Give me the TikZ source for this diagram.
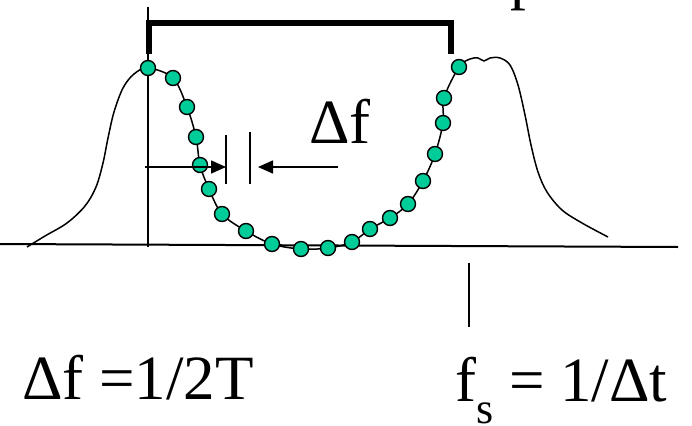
\documentclass[tikz,border=0pt]{standalone}
\usepackage{fontspec}
\setmainfont{Liberation Serif}
\usetikzlibrary{arrows.meta}
\definecolor{sampgreen}{RGB}{0,204,153}

\begin{document}
\begin{tikzpicture}[x=1pt,y=-1pt,
    samp/.style={circle,draw,line width=1.4pt,fill=sampgreen,inner sep=0,minimum size=15pt},
    bigtxt/.style={font=\fontsize{63}{63}\selectfont,inner sep=0,anchor=base west},
    arr/.style={line width=1.6pt,-{Triangle[length=15pt,width=13pt]}}]
\useasboundingbox (0,0) rectangle (692,425);
\draw[line width=2pt] (0,244)--(678,247);
\draw[line width=1.5pt] (148,7)--(148,247);
\draw[line width=5.5pt] (149,54)--(149,23)--(451,23)--(451,54);
\draw[line width=1.5pt] (469,263)--(469,327);
\draw[line width=1.5pt] plot[smooth,tension=0.55] coordinates {(27,247) (45,236) (67,223) (85,206)
    (96,187) (103,163) (108,138) (114,112) (123,88) (134,74) (148,68) (173,78) (187,107)
    (196,137) (200,165) (209,189) (222,214) (246,231) (272,244) (301,249) (328,248)
    (352,242) (370,229) (390,218) (408,204) (423,181) (435,154) (443,123) (444,98)
    (459,67) (470,59) (478,58) (484,61) (490,58) (500,58) (510,65) (518,85) (525,115)
    (531,145) (538,172) (547,192) (562,210) (582,223) (608,237)};
\foreach \pt [count=\i] in {(148,68),(173,78),(187,107),(196,137),(200,165),(209,189),
    (222,214),(246,231),(272,244),(301,249),(328,248),(352,242),(370,229),(390,218),
    (408,204),(423,181),(435,154),(443,123),(444,98),(459,67)}
  \node[samp] (s\i) at \pt {};
\coordinate (barl) at (226,167);
\coordinate (barr) at (250,167);
\draw[arr] (145,167)--(barl);
\draw[arr] (338,167)--([xshift=8pt]barr);
\draw[line width=1.5pt] ([yshift=-17pt]barl)--([yshift=32pt]barl);
\draw[line width=1.5pt] ([yshift=-17pt]barr)--([yshift=35pt]barr);
\node[bigtxt] (df) at (309,143) {Δf};
\node[bigtxt] (top) at (510,-2) {p};
\node[bigtxt] (dfeq) at (22,399) {Δf =1/2T};
\node[bigtxt] (fseq) at (455,401) {f{\fontsize{44}{44}\selectfont\raisebox{-22pt}{s}} = 1/Δt};
\end{tikzpicture}
\end{document}
